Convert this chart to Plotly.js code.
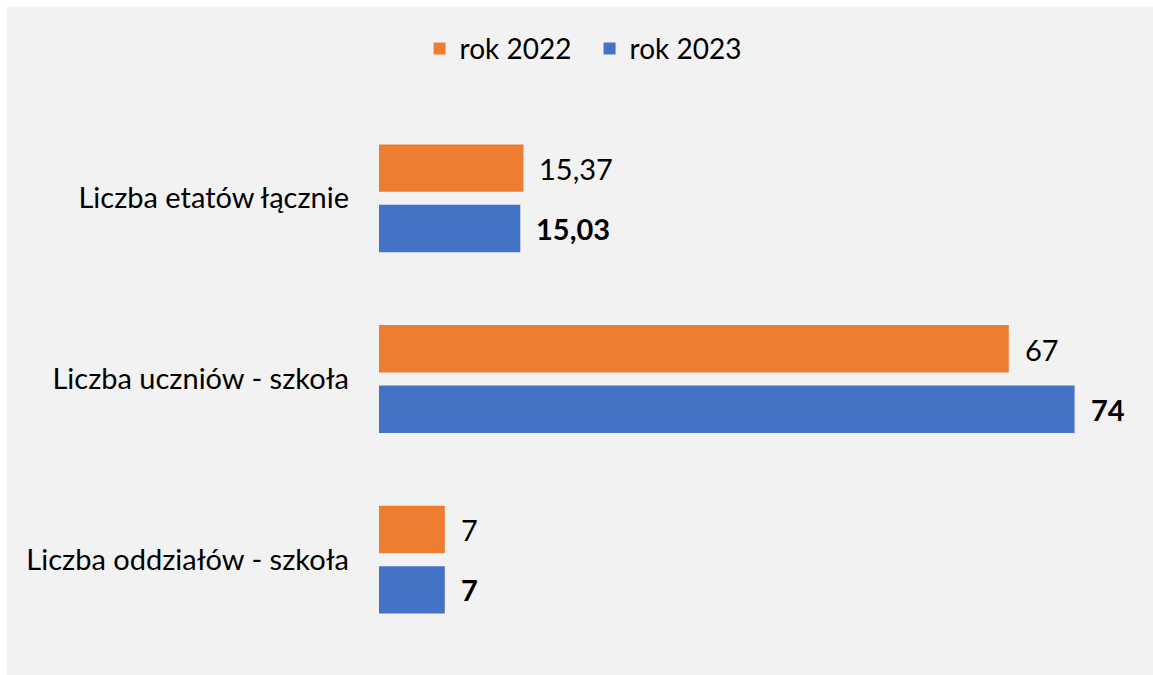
<!DOCTYPE html>
<html>
<head>
<meta charset="utf-8">
<script src="https://cdn.plot.ly/plotly-3.0.1.min.js"></script>
<style>
  html, body { margin: 0; padding: 0; background: #ffffff; }
  #chart { position: absolute; left: 7px; top: 7px; width: 1146px; height: 668px; }
</style>
</head>
<body>
<div id="chart"></div>
<script>
const categories = ['Liczba etatów łącznie', 'Liczba uczniów - szkoła', 'Liczba oddziałów - szkoła'];
const seriesNames = ['rok 2022', 'rok 2023'];
const values2022 = [15.37, 67, 7];
const values2023 = [15.03, 74, 7];

const FONT = 'Lato, "Open Sans", sans-serif';
const fmt = v => String(v).replace('.', ',');

const traces = [
  {
    type: 'bar', orientation: 'h', name: seriesNames[0],
    y: categories, x: values2022,
    marker: { color: '#ED7D31' },
    hoverinfo: 'x+y'
  },
  {
    type: 'bar', orientation: 'h', name: seriesNames[1],
    y: categories, x: values2023,
    marker: { color: '#4472C4' },
    hoverinfo: 'x+y'
  }
];

const annotations = [];
categories.forEach((c, i) => {
  annotations.push({
    x: values2022[i], y: c, xref: 'x', yref: 'y',
    text: fmt(values2022[i]), showarrow: false,
    xanchor: 'left', yanchor: 'middle', xshift: 14, yshift: 30,
    font: { family: FONT, size: 29, color: '#000' }
  });
  annotations.push({
    x: values2023[i], y: c, xref: 'x', yref: 'y',
    text: '<b>' + fmt(values2023[i]) + '</b>', showarrow: false,
    xanchor: 'left', yanchor: 'middle', xshift: 14, yshift: -30,
    font: { family: FONT, size: 29, color: '#000' }
  });
});

const layout = {
  width: 1146, height: 668,
  paper_bgcolor: '#F2F2F2', plot_bgcolor: '#F2F2F2',
  margin: { l: 372, r: 21.6, t: 100.5, b: 24.5 },
  barmode: 'group', bargap: 0.331, bargroupgap: 0.215,
  font: { family: FONT, color: '#000' },
  xaxis: { range: [0, 80], visible: false, fixedrange: true },
  yaxis: {
    autorange: 'reversed', showgrid: false, zeroline: false, showline: false,
    ticks: '', ticklabelstandoff: 29,
    tickfont: { family: FONT, size: 29, color: '#000' }
  },
  showlegend: true,
  legend: {
    orientation: 'h', xref: 'container', yref: 'container',
    x: 0.360, xanchor: 'left', y: 0.975, yanchor: 'top',
    font: { family: FONT, size: 28, color: '#000' },
    bgcolor: 'rgba(0,0,0,0)', itemwidth: 30,
    entrywidth: 125, entrywidthmode: 'pixels'
  },
  annotations: annotations
};

Plotly.newPlot('chart', traces, layout, { displayModeBar: false, staticPlot: true });
</script>
</body>
</html>
